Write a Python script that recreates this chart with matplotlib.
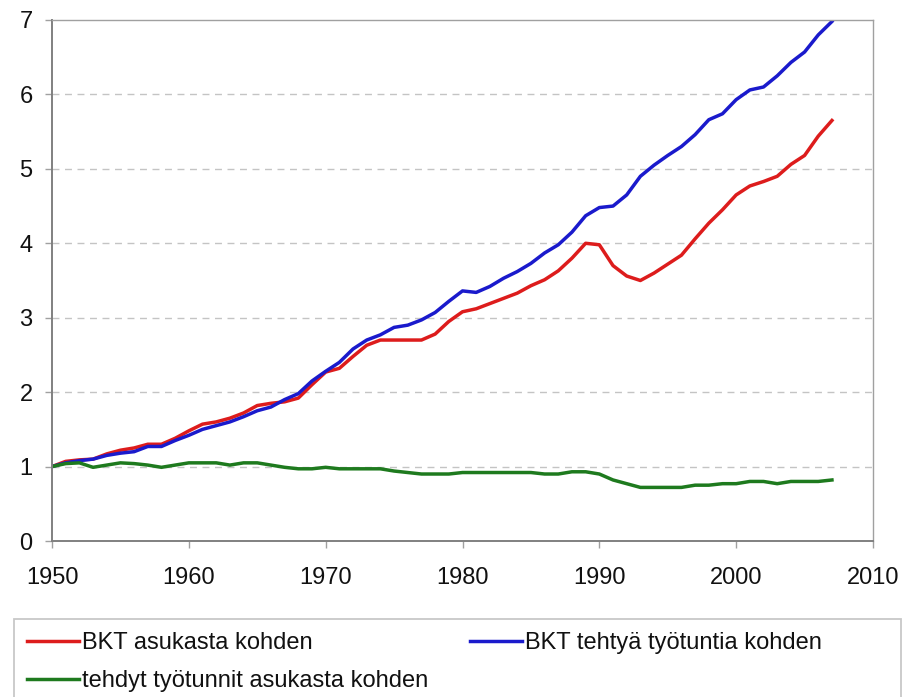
import numpy as np
import matplotlib
matplotlib.use("Agg")
import matplotlib.pyplot as plt
from matplotlib.patches import Rectangle

plt.rcParams['font.family'] = ['Liberation Sans', 'DejaVu Sans']

years = list(range(1950, 2008))

# BKT asukasta kohden
gdp_per_capita = [
    1.00, 1.07, 1.09, 1.10, 1.17, 1.22, 1.25, 1.30, 1.30, 1.38,
    1.48, 1.57, 1.60, 1.65, 1.72, 1.82, 1.85, 1.87, 1.92, 2.10,
    2.27, 2.32, 2.48, 2.63, 2.70, 2.70, 2.70, 2.70, 2.78, 2.95,
    3.08, 3.12, 3.19, 3.26, 3.33, 3.43, 3.51, 3.63, 3.80, 4.00,
    3.98, 3.70, 3.56, 3.50, 3.60, 3.72, 3.84, 4.06, 4.27, 4.45,
    4.65, 4.77, 4.83, 4.90, 5.06, 5.18, 5.44, 5.65,
]

# BKT tehtyä työtuntia kohden
gdp_per_hour = [
    1.00, 1.05, 1.08, 1.10, 1.15, 1.18, 1.20, 1.27, 1.27, 1.35,
    1.42, 1.50, 1.55, 1.60, 1.67, 1.75, 1.80, 1.90, 1.98, 2.15,
    2.28, 2.40, 2.58, 2.70, 2.77, 2.87, 2.90, 2.97, 3.07, 3.22,
    3.36, 3.34, 3.42, 3.53, 3.62, 3.73, 3.87, 3.98, 4.15, 4.37,
    4.48, 4.50, 4.65, 4.90, 5.05, 5.18, 5.30, 5.46, 5.66, 5.74,
    5.93, 6.06, 6.10, 6.25, 6.43, 6.57, 6.80, 6.98,
]

# tehdyt työtunnit asukasta kohden
hours_per_capita = [
    1.00, 1.04, 1.05, 0.99, 1.02, 1.05, 1.04, 1.02, 0.99, 1.02,
    1.05, 1.05, 1.05, 1.02, 1.05, 1.05, 1.02, 0.99, 0.97, 0.97,
    0.99, 0.97, 0.97, 0.97, 0.97, 0.94, 0.92, 0.90, 0.90, 0.90,
    0.92, 0.92, 0.92, 0.92, 0.92, 0.92, 0.90, 0.90, 0.93, 0.93,
    0.90, 0.82, 0.77, 0.72, 0.72, 0.72, 0.72, 0.75, 0.75, 0.77,
    0.77, 0.80, 0.80, 0.77, 0.80, 0.80, 0.80, 0.82,
]

W, H = 907, 697
fig = plt.figure(figsize=(W / 100, H / 100), dpi=100)
ax = fig.add_axes([52 / W, 1 - 541 / H, (873 - 52) / W, (541 - 20) / H])

l1, = ax.plot(years, gdp_per_capita, color="#dd1c1c", lw=2.5, label="BKT asukasta kohden")
l2, = ax.plot(years, gdp_per_hour, color="#1a1acc", lw=2.5, label="BKT tehtyä työtuntia kohden")
l3, = ax.plot(years, hours_per_capita, color="#1e7a1e", lw=2.5, label="tehdyt työtunnit asukasta kohden")

ax.set_xlim(1950, 2010)
ax.set_ylim(0, 7)
ax.set_xticks(range(1950, 2011, 10))
ax.set_yticks(range(0, 8))
for y in range(1, 7):
    ax.axhline(y, color="#c4c4c4", lw=1, ls=(0, (5, 4)), zorder=0)

for side in ["left", "bottom"]:
    ax.spines[side].set_color("#808080")
    ax.spines[side].set_linewidth(1.4)
for side in ["top", "right"]:
    ax.spines[side].set_color("#a0a0a0")
    ax.spines[side].set_linewidth(1.0)

ax.tick_params(axis="both", labelsize=17, colors="#a0a0a0", labelcolor="#111111",
               direction="out", length=5, width=1)
ax.tick_params(axis="x", pad=13.5)
ax.tick_params(axis="y", pad=9)

# legend below the plot, frame drawn separately so it can span the width
fs = 17
leg = fig.legend(handles=[l1, l3, l2], ncol=2, frameon=False, fontsize=fs,
                 loc="upper left", bbox_to_anchor=(14 / W, 1 - 619 / H),
                 handlelength=2.2, handletextpad=0.13, columnspacing=1.75,
                 labelspacing=0.68, borderpad=0.55, borderaxespad=0)
for t in leg.get_texts():
    t.set_color("#111111")
fig.patches.append(Rectangle((14 / W, -0.02), (901 - 14) / W, (1 - 619 / H) + 0.02,
                             transform=fig.transFigure, fill=False,
                             edgecolor="#c8c8c8", lw=1.3))

fig.savefig("out.png", dpi=100)
